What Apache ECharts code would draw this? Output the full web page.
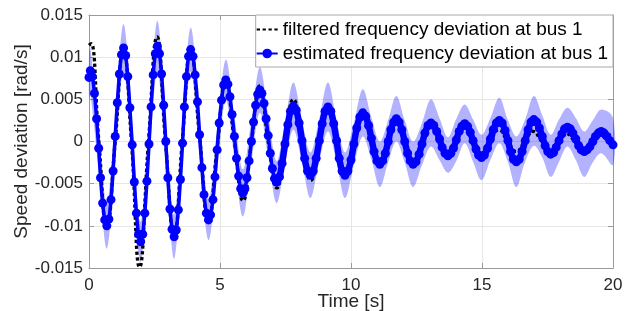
<!DOCTYPE html>
<html>
<head>
<meta charset="utf-8">
<script src="https://cdn.jsdelivr.net/npm/echarts@6/dist/echarts.min.js"></script>
<style>
  html, body { margin: 0; padding: 0; background: #fff; }
  #chart { width: 629px; height: 311px; }
</style>
</head>
<body>
<div id="chart"></div>
<script>
// ---- axis ticks ----
const xTicks = [0, 5, 10, 15, 20];
const yTicks = [-0.015, -0.01, -0.005, 0, 0.005, 0.01, 0.015];
const yTickLabels = ['-0.015', '-0.01', '-0.005', '0', '0.005', '0.01', '0.015'];

// ---- series names ----
const nameFilt = 'filtered frequency deviation at bus 1';
const nameEst = 'estimated frequency deviation at bus 1';

// ---- estimated frequency deviation (blue, with markers) ----
const estT = [0,0.05,0.13,0.21,0.29,0.37,0.44,0.52,0.60,
  0.68,0.76,0.84,0.92,1.00,1.08,1.16,1.24,
  1.32,1.40,1.48,1.56,1.65,1.73,1.81,1.89,
  1.97,2.05,2.13,2.21,2.29,2.37,2.45,2.53,
  2.61,2.69,2.77,2.85,2.93,3.01,3.09,3.17,
  3.25,3.33,3.41,3.49,3.57,3.64,3.72,3.80,
  3.88,3.97,4.05,4.14,4.22,4.31,4.39,4.48,
  4.56,4.64,4.73,4.81,4.89,4.97,5.06,5.14,
  5.22,5.30,5.38,5.46,5.55,5.63,5.71,5.79,
  5.87,5.95,6.03,6.11,6.20,6.28,6.36,6.44,
  6.52,6.60,6.68,6.76,6.84,6.92,7.00,7.08,
  7.16,7.27,7.37,7.48,7.59,7.69,
  7.80,7.91,8.02,8.13,8.23,8.34,
  8.45,8.56,8.67,8.79,8.90,9.01,
  9.12,9.23,9.34,9.45,9.55,9.66,
  9.77,9.88,10.00,10.11,10.22,10.34,
  10.45,10.56,10.67,10.78,10.88,10.99,
  11.10,11.21,11.31,11.42,11.52,11.63,
  11.73,11.84,11.94,12.05,12.16,12.26,
  12.37,12.48,12.60,12.71,12.82,12.94,
  13.05,13.16,13.27,13.38,13.48,13.59,
  13.70,13.81,13.91,14.02,14.13,14.23,
  14.34,14.45,14.55,14.66,14.77,14.87,
  14.98,15.09,15.21,15.32,15.43,15.55,
  15.66,15.77,15.88,15.99,16.09,16.20,
  16.31,16.42,16.53,16.65,16.76,16.87,
  16.98,17.09,17.19,17.30,17.41,17.51,
  17.62,17.73,17.83,17.94,18.05,18.15,
  18.26,18.37,18.47,18.58,18.69,18.79,
  18.90,19.01,19.12,19.23,19.33,19.44,
  19.55,19.66,19.77,19.88,20.00];
const estV = [0.0076,0.0084,0.0077,0.0057,0.0027,-0.0008,-0.0043,-0.0073,-0.0093,
  -0.0100,-0.0092,-0.0069,-0.0035,0.0006,0.0046,0.0080,0.0103,
  0.0111,0.0102,0.0077,0.0040,-0.0004,-0.0048,-0.0085,-0.0110,
  -0.0119,-0.0110,-0.0085,-0.0047,-0.0003,0.0041,0.0079,0.0104,
  0.0113,0.0104,0.0080,0.0043,0.0000,-0.0043,-0.0080,-0.0104,
  -0.0113,-0.0105,-0.0081,-0.0045,-0.0002,0.0041,0.0077,0.0101,
  0.0109,0.0101,0.0079,0.0047,0.0008,-0.0031,-0.0063,-0.0085,
  -0.0093,-0.0087,-0.0069,-0.0042,-0.0010,0.0022,0.0049,0.0067,
  0.0073,0.0068,0.0053,0.0032,0.0006,-0.0020,-0.0041,-0.0056,
  -0.0061,-0.0056,-0.0043,-0.0023,0.0000,0.0023,0.0043,0.0056,
  0.0061,0.0057,0.0045,0.0027,0.0007,-0.0014,-0.0032,-0.0044,
  -0.0048,-0.0042,-0.0026,-0.0003,0.0020,0.0036,
  0.0042,0.0037,0.0022,0.0001,-0.0020,-0.0035,
  -0.0040,-0.0035,-0.0020,0.0001,0.0021,0.0036,
  0.0041,0.0036,0.0021,0.0001,-0.0020,-0.0035,
  -0.0040,-0.0035,-0.0022,-0.0003,0.0016,0.0029,
  0.0034,0.0030,0.0019,0.0004,-0.0012,-0.0023,
  -0.0027,-0.0023,-0.0014,0.0000,0.0014,0.0023,
  0.0027,0.0023,0.0014,0.0000,-0.0014,-0.0023,
  -0.0027,-0.0024,-0.0015,-0.0003,0.0010,0.0019,
  0.0022,0.0019,0.0012,0.0003,-0.0007,-0.0014,
  -0.0017,-0.0014,-0.0008,0.0002,0.0012,0.0018,
  0.0021,0.0018,0.0011,0.0001,-0.0009,-0.0016,
  -0.0019,-0.0016,-0.0008,0.0003,0.0014,0.0022,
  0.0025,0.0022,0.0013,0.0001,-0.0012,-0.0021,
  -0.0024,-0.0021,-0.0012,0.0001,0.0014,0.0023,
  0.0026,0.0023,0.0016,0.0006,-0.0005,-0.0012,
  -0.0015,-0.0013,-0.0007,0.0001,0.0009,0.0015,
  0.0017,0.0015,0.0010,0.0003,-0.0005,-0.0010,
  -0.0012,-0.0010,-0.0006,0.0000,0.0006,0.0010,
  0.0012,0.0010,0.0006,0.0001,-0.0004];

// ---- filtered frequency deviation (black dotted) ----
const filtT = [0,0.08,0.37,0.68,1.00,1.31,1.62,1.93,2.27,2.60,2.92,3.25,3.56,3.88,4.22,4.56,
  4.89,5.22,5.55,5.88,6.20,6.52,6.84,7.17,7.48,7.80,8.13,8.47,8.79,9.12,9.45,9.77,
  10.11,10.45,10.78,11.10,11.42,11.73,12.05,12.37,12.71,13.05,13.38,13.70,14.02,14.34,14.66,14.98,
  15.32,15.64,15.98,16.31,16.63,16.95,17.28,17.60,17.92,18.23,18.55,18.87,19.20,19.53,19.85,20.0];
const filtV = [0.0114,0.0116,0.0003,-0.0102,0,0.0110,0,-0.0149,0,0.0124,0,-0.0112,0,0.0108,0.0006,-0.0094,
  -0.0008,0.0072,0,-0.0070,0,0.0066,0,-0.0055,0,0.0050,0,-0.0046,0,0.0036,0,-0.0035,
  0,0.0030,0,-0.0024,0,0.0024,0,-0.0024,0,0.0019,0,-0.0019,0,0.0017,0,-0.0017,
  0,0.0014,0,-0.0012,0,0.0012,0,-0.0011,0,0.0009,0,-0.0009,0,0.0007,0,-0.0003];

// ---- uncertainty band (light blue) ----
const bandT = [0,0.05,0.365,0.68,1.00,1.32,1.65,1.97,2.29,2.61,2.93,3.25,3.565,3.88,4.22,4.56,
  4.89,5.22,5.545,5.87,6.195,6.52,6.84,7.16,7.48,7.80,8.125,8.45,8.785,9.12,9.445,9.77,
  10.11,10.45,10.775,11.10,11.415,11.73,12.05,12.37,12.71,13.05,13.375,13.70,14.02,14.34,14.66,14.98,
  15.32,15.66,15.985,16.31,16.645,16.98,17.30,17.62,17.94,18.26,18.58,18.90,19.225,19.55,20.0];
const bandUpper = [0.0104,0.0111,0.0017,-0.0073,0.0031,0.0139,0.0021,-0.0095,0.0022,0.0143,0.0025,-0.0087,0.0023,0.0135,0.0033,-0.0069,
  0.0015,0.0097,0.0031,-0.0033,0.0025,0.0088,0.0032,-0.0023,0.0022,0.0070,0.0026,-0.0013,0.0026,0.0070,0.0026,-0.0013,
  0.0022,0.0062,0.0029,0.0000,0.0025,0.0054,0.0025,0.0000,0.0022,0.0050,0.0028,0.0005,0.0027,0.0044,0.0026,0.0008,
  0.0028,0.0052,0.0026,0.0006,0.0026,0.0054,0.0031,0.0008,0.0026,0.0040,0.0028,0.0012,0.0025,0.0038,0.0028];
const bandLower = [0.0050,0.0057,-0.0033,-0.0127,-0.0019,0.0083,-0.0029,-0.0143,-0.0028,0.0083,-0.0025,-0.0139,-0.0027,0.0083,-0.0017,-0.0117,
  -0.0035,0.0049,-0.0019,-0.0089,-0.0025,0.0034,-0.0018,-0.0073,-0.0028,0.0014,-0.0024,-0.0067,-0.0024,0.0012,-0.0024,-0.0067,
  -0.0028,0.0006,-0.0021,-0.0054,-0.0025,0.0000,-0.0025,-0.0054,-0.0028,-0.0006,-0.0022,-0.0037,-0.0023,-0.0002,-0.0024,-0.0046,
  -0.0022,-0.0002,-0.0024,-0.0054,-0.0024,-0.0005,-0.0019,-0.0042,-0.0024,-0.0006,-0.0022,-0.0042,-0.0025,-0.0014,-0.0028];

const zip = (a, b) => a.map((t, i) => [t, b[i]]);
const bandData = bandT.map((t, i) => [t, bandUpper[i], bandLower[i]]);
const estData = zip(estT, estV);
// early large swings drawn with a thinner connecting line, later small swings with a thicker one
const SPLIT_T = 7.16;
const estEarly = estData.filter(d => d[0] <= SPLIT_T);
const estLate = estData.filter(d => d[0] >= SPLIT_T);

const FONT = 'Liberation Sans, Arial, Helvetica, sans-serif';
const AXIS_COLOR = '#9a9a9a';
const LABEL_COLOR = '#262626';
const GRID_COLOR = '#e6e6e6';

const chart = echarts.init(document.getElementById('chart'), null, { renderer: 'canvas' });

const tickLabel = (v) => {
  for (let i = 0; i < yTicks.length; i++) {
    if (Math.abs(v - yTicks[i]) < 1e-9) return yTickLabels[i];
  }
  return '';
};

// band polygon built from the data through the axis scales
const renderBand = (params, api) => {
  if (params.dataIndex !== 0) return null;
  const upperPts = bandData.map(d => api.coord([d[0], d[1]]));
  const lowerPts = bandData.map(d => api.coord([d[0], d[2]])).reverse();
  return {
    type: 'polygon',
    shape: { points: upperPts.concat(lowerPts), smooth: 0.35 },
    style: { fill: 'rgba(0,0,255,0.3)', stroke: null }
  };
};

chart.setOption({
  animation: false,
  textStyle: { fontFamily: FONT },
  grid: { left: 89, right: 16, top: 15, bottom: 43, containLabel: false, outerBoundsMode: 'none' },
  legend: {
    data: [
      { name: nameFilt, itemStyle: { color: 'rgba(0,0,0,0)', borderWidth: 0, opacity: 0 } },
      { name: nameEst }
    ],
    orient: 'vertical',
    right: 16,
    top: 15,
    backgroundColor: '#fff',
    borderColor: '#a8a8a8',
    borderWidth: 1,
    borderRadius: 0,
    padding: [5, 5, 4, 0],
    itemWidth: 21,
    itemHeight: 12,
    itemGap: 5,
    textStyle: { fontSize: 19, color: '#000', fontFamily: FONT }
  },
  xAxis: [
    {
      type: 'value', min: xTicks[0], max: xTicks[xTicks.length - 1], interval: 5,
      position: 'bottom',
      name: 'Time [s]', nameLocation: 'middle', nameGap: 24, nameMoveOverlap: false,
      nameTextStyle: { fontSize: 19, color: LABEL_COLOR, fontFamily: FONT },
      axisLine: { show: true, onZero: false, lineStyle: { color: AXIS_COLOR, width: 1 } },
      axisTick: { show: true, inside: true, length: 5, lineStyle: { color: AXIS_COLOR } },
      axisLabel: { fontSize: 17, color: LABEL_COLOR, margin: 9, fontFamily: FONT },
      splitLine: { show: true, lineStyle: { color: GRID_COLOR, width: 1 } }
    },
    {
      type: 'value', min: xTicks[0], max: xTicks[xTicks.length - 1], interval: 5,
      position: 'top',
      axisLine: { show: true, onZero: false, lineStyle: { color: AXIS_COLOR, width: 1 } },
      axisTick: { show: true, inside: true, length: 5, lineStyle: { color: AXIS_COLOR } },
      axisLabel: { show: false },
      splitLine: { show: false }
    }
  ],
  yAxis: [
    {
      type: 'value', min: yTicks[0], max: yTicks[yTicks.length - 1], interval: 0.005,
      position: 'left',
      name: 'Speed deviation [rad/s]', nameLocation: 'middle', nameGap: 58, nameRotate: 90, nameMoveOverlap: false,
      nameTextStyle: { fontSize: 19, color: LABEL_COLOR, fontFamily: FONT },
      axisLine: { show: true, onZero: false, lineStyle: { color: AXIS_COLOR, width: 1 } },
      axisTick: { show: true, inside: true, length: 5, lineStyle: { color: AXIS_COLOR } },
      axisLabel: { fontSize: 17, color: LABEL_COLOR, margin: 6, fontFamily: FONT, formatter: tickLabel },
      splitLine: { show: true, lineStyle: { color: GRID_COLOR, width: 1 } }
    },
    {
      type: 'value', min: yTicks[0], max: yTicks[yTicks.length - 1], interval: 0.005,
      position: 'right',
      axisLine: { show: true, onZero: false, lineStyle: { color: AXIS_COLOR, width: 1 } },
      axisTick: { show: true, inside: true, length: 5, lineStyle: { color: AXIS_COLOR } },
      axisLabel: { show: false },
      splitLine: { show: false }
    }
  ],
  series: [
    {
      name: 'band', type: 'custom', xAxisIndex: 0, yAxisIndex: 0,
      data: bandData, encode: { x: 0, y: [1, 2] },
      renderItem: renderBand, silent: true, z: 1
    },
    {
      name: nameFilt, type: 'line', xAxisIndex: 0, yAxisIndex: 0,
      data: zip(filtT, filtV), smooth: 0.5, symbol: 'none',
      lineStyle: { color: '#000', width: 3.3, type: [3.3, 2.6], cap: 'butt' },
      itemStyle: { color: '#000' }, z: 2
    },
    {
      name: nameEst, type: 'line', xAxisIndex: 0, yAxisIndex: 0,
      data: estEarly, smooth: 0.3, symbol: 'circle', symbolSize: 9, showAllSymbol: true,
      lineStyle: { color: '#0000ff', width: 3.5 },
      itemStyle: { color: '#0000ff' }, z: 3
    },
    {
      name: nameEst, type: 'line', xAxisIndex: 0, yAxisIndex: 0,
      data: estLate, smooth: 0.3, symbol: 'circle', symbolSize: 9, showAllSymbol: true,
      lineStyle: { color: '#0000ff', width: 6.5 },
      itemStyle: { color: '#0000ff' }, z: 3
    }
  ]
});
</script>
</body>
</html>
